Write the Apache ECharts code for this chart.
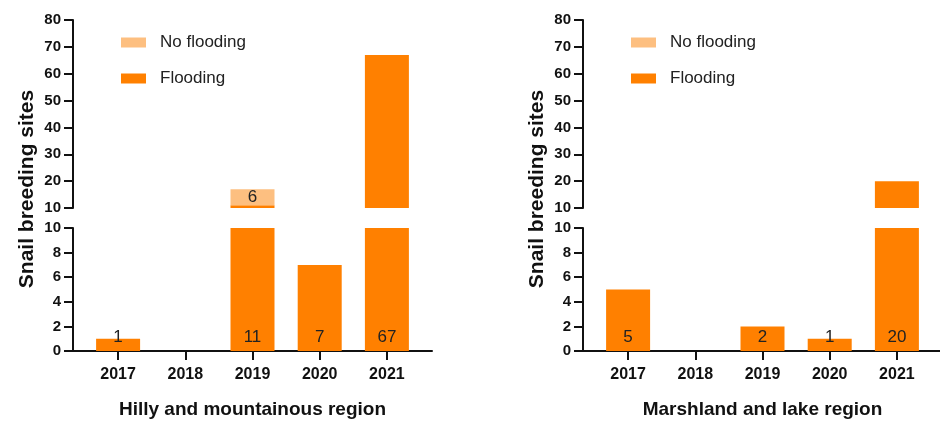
<!DOCTYPE html>
<html><head><meta charset="utf-8">
<script src="https://cdn.jsdelivr.net/npm/echarts@6/dist/echarts.min.js"></script>
<style>html,body{margin:0;padding:0;background:#fff}#c{width:940px;height:421px}</style>
</head><body><div id="c"></div>
<script>
// ---- data ----
const years = ['2017', '2018', '2019', '2020', '2021'];
const hillyFlooding = [1, 0, 11, 7, 67];
const hillyNoFlooding = [0, 0, 6, 0, 0];
const marshFlooding = [5, 0, 2, 1, 20];
const marshNoFlooding = [0, 0, 0, 0, 0];
const panelTitles = ['Hilly and mountainous region', 'Marshland and lake region'];
const yTitle = 'Snail breeding sites';
const seriesNames = ['No flooding', 'Flooding'];

// ---- styling ----
const FONT = 'Liberation Sans, Arial, sans-serif';
const C_FLOOD = '#FF8000';
const C_NOFLOOD = '#FDBF80';
const INK = '#111';
const axisLeft = [73, 583];   // y-axis line position
const axisW = 359;            // full x-axis line length
const pad = 11.5;             // gap between axis ends and category band
const upper = {top: 20, height: 188};
const lower = {top: 228, height: 123};

const panels = [
  {flood: hillyFlooding, noFlood: hillyNoFlooding, title: panelTitles[0]},
  {flood: marshFlooding, noFlood: marshNoFlooding, title: panelTitles[1]}
];

const grid = [], xAxis = [], yAxis = [], series = [], legend = [], graphic = [];
const hideZero = p => (p.value ? String(p.value) : '');

panels.forEach((p, k) => {
  const left = axisLeft[k];
  const gu = grid.length, gl = gu + 1, gline = gu + 2;
  grid.push({left: left + pad, top: upper.top, width: axisW - 2 * pad, height: upper.height});
  grid.push({left: left + pad, top: lower.top, width: axisW - 2 * pad, height: lower.height});
  grid.push({left: left, top: lower.top, width: axisW, height: lower.height});

  xAxis.push({type: 'category', data: years, gridIndex: gu, show: false});
  xAxis.push({
    type: 'category', data: years, gridIndex: gl,
    axisLine: {show: false},
    axisTick: {show: true, alignWithLabel: true, length: 9, lineStyle: {color: INK, width: 2}},
    axisLabel: {color: INK, fontWeight: 'bold', fontSize: 16, margin: 16, fontFamily: FONT},
    name: p.title, nameLocation: 'middle', nameGap: 49,
    nameTextStyle: {color: INK, fontWeight: 'bold', fontSize: 19, fontFamily: FONT}
  });
  xAxis.push({
    type: 'value', gridIndex: gline, min: 0, max: 1,
    axisLine: {show: true, lineStyle: {color: INK, width: 2}},
    axisTick: {show: false}, axisLabel: {show: false}, splitLine: {show: false}
  });

  const yBase = {
    type: 'value', splitLine: {show: false}, offset: pad,
    axisLine: {show: true, lineStyle: {color: INK, width: 2}},
    axisTick: {show: true, length: 9, lineStyle: {color: INK, width: 2}},
    axisLabel: {color: INK, fontWeight: 'bold', fontSize: 15, margin: 12, fontFamily: FONT}
  };
  yAxis.push(Object.assign({}, yBase, {gridIndex: gu, min: 10, max: 80, interval: 10}));
  yAxis.push(Object.assign({}, yBase, {gridIndex: gl, min: 0, max: 10, interval: 2}));
  yAxis.push({type: 'value', gridIndex: gline, show: false, min: 0, max: 1});

  const lbl = (show, pos) => ({show: show, position: pos, formatter: hideZero, color: '#222', fontSize: 17, fontFamily: FONT});
  // upper segment (10–80)
  series.push({type: 'bar', name: seriesNames[1], xAxisIndex: gu, yAxisIndex: gu, stack: 'u' + k, barWidth: 44,
    data: p.flood, itemStyle: {color: C_FLOOD}, label: lbl(false, 'inside'), clip: true});
  series.push({type: 'bar', name: seriesNames[0], xAxisIndex: gu, yAxisIndex: gu, stack: 'u' + k, barWidth: 44,
    data: p.noFlood, itemStyle: {color: C_NOFLOOD}, label: lbl(true, 'inside'), clip: true});
  // lower segment (0–10)
  series.push({type: 'bar', name: seriesNames[1], xAxisIndex: gl, yAxisIndex: gl, stack: 'l' + k, barWidth: 44,
    data: p.flood, itemStyle: {color: C_FLOOD}, label: lbl(true, 'insideBottom'), clip: true});
  series.push({type: 'bar', name: seriesNames[0], xAxisIndex: gl, yAxisIndex: gl, stack: 'l' + k, barWidth: 44,
    data: p.noFlood, itemStyle: {color: C_NOFLOOD}, label: lbl(false, 'inside'), clip: true});

  legend.push({
    left: left + 48, top: 34, padding: 0, orient: 'vertical', icon: 'rect',
    itemWidth: 25, itemHeight: 10, itemGap: 19,
    data: seriesNames, selectedMode: false,
    textStyle: {fontSize: 17, color: '#222', padding: [0, 0, 0, 9], fontFamily: FONT}
  });
  graphic.push({
    type: 'text', x: left - 46, y: 189, rotation: Math.PI / 2,
    style: {text: yTitle, fill: INK, font: 'bold 21px "Liberation Sans", Arial, sans-serif', align: 'center', verticalAlign: 'middle'}
  });
});

const chart = echarts.init(document.getElementById('c'), null, {renderer: 'canvas'});
chart.setOption({
  animation: false,
  backgroundColor: '#fff',
  grid, xAxis, yAxis, series, legend, graphic
});
</script>
</body></html>
